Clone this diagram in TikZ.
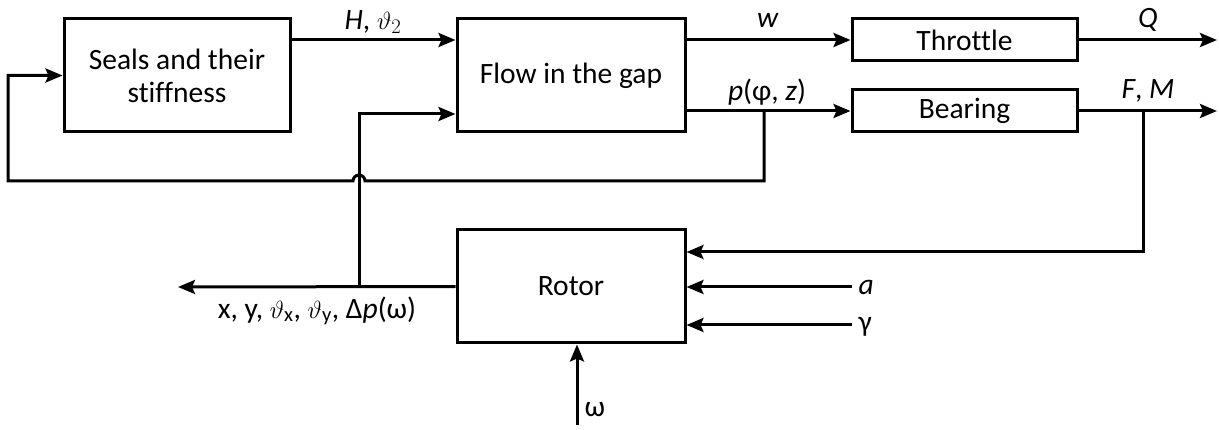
\documentclass[tikz,border=0pt]{standalone}
\usepackage{amsmath}
\usepackage{fontspec}
\setmainfont[Ligatures={NoCommon}]{Carlito}
\usetikzlibrary{arrows.meta}
\begin{document}
\begin{tikzpicture}[x=1pt,y=-1pt,
  font=\fontsize{29.5}{35}\selectfont,
  line width=3pt,
  blk/.style={draw,rectangle,align=center,inner sep=0pt},
  arr/.style={-{Stealth[length=17pt,width=14pt,inset=3pt]}},
  lbl/.style={inner sep=0pt}]
\useasboundingbox (0,0) rectangle (1219,430);
% blocks
\node[blk,minimum width=226pt,minimum height=113pt] (Seals) at (177,75.5) {Seals and their\\[-2pt]stiffness};
\node[blk,minimum width=228pt,minimum height=113pt] (Flow) at (571,75.5) {Flow in the gap};
\node[blk,minimum width=225pt,minimum height=42pt] (Throttle) at (964.5,40) {Throttle};
\node[blk,minimum width=225pt,minimum height=42pt] (Bearing) at (964.5,111) {Bearing};
\node[blk,minimum width=228pt,minimum height=113pt] (Rotor) at (571,286.5) {Rotor};
% labels
\node[lbl] (lH) at (373,22) {\textit{H}, $\vartheta_2$};
\node[lbl] (lw) at (768,20) {\textit{w}};
\node[lbl] (lp) at (767,92) {\textit{p}(φ, \textit{z})};
\node[lbl] (lQ) at (1148,20) {\textit{Q}};
\node[lbl] (lFM) at (1148,91) {\textit{F}, \textit{M}};
\node[lbl,anchor=west] (la) at (857,287) {\textit{a}};
\node[lbl,anchor=west] (lg) at (857,327) {γ};
\node[lbl,anchor=west] (lom) at (583,410) {ω};
\node[lbl] (lout) at (317,311) {x, y, $\vartheta_{\text{x}}$, $\vartheta_{\text{y}}$, Δ\textit{p}(ω)};
% coordinates
\coordinate (Qend) at (1217,40);
\coordinate (FMend) at (1217,111);
\coordinate (pb) at (764,111);
\coordinate (pbd) at (764,181);
\coordinate (hopR) at (365,181);
\coordinate (fmb) at (1143,111);
\coordinate (fmin) at (1143,252);
\coordinate (outend) at (178,287);
\coordinate (vx) at (359,287);
\coordinate (vin) at (359,114);
\coordinate (fbL) at (8,181);
\coordinate (fbT) at (8,75.5);
\coordinate (w0) at (577,425);
\coordinate (aS) at (852,287);
\coordinate (gS) at (852,325);
% connectors
\draw[arr] (Seals.east |- Throttle) -- (Flow.west |- Throttle);
\draw[arr] (Flow.east |- Throttle) -- (Throttle.west);
\draw[arr] (Throttle.east) -- (Qend);
\draw[arr] (Flow.east |- Bearing) -- (Bearing.west);
\draw[arr] (Bearing.east) -- (FMend);
\draw[arr] (fmb) -- (fmin) -- (Rotor.east |- fmin);
\draw[arr] (Rotor.west) -- (outend);
\draw[arr] (vx) -- (vin) -- (Flow.west |- vin);
\draw[arr] (pb) -- (pbd) -- (hopR) arc[start angle=0,end angle=-180,radius=6] -- (fbL) -- (fbT) -- (Seals.west);
\draw[arr] (aS) -- (Rotor.east |- aS);
\draw[arr] (gS) -- (Rotor.east |- gS);
\draw[arr] (w0) -- (Rotor.south -| w0);
\end{tikzpicture}
\end{document}
